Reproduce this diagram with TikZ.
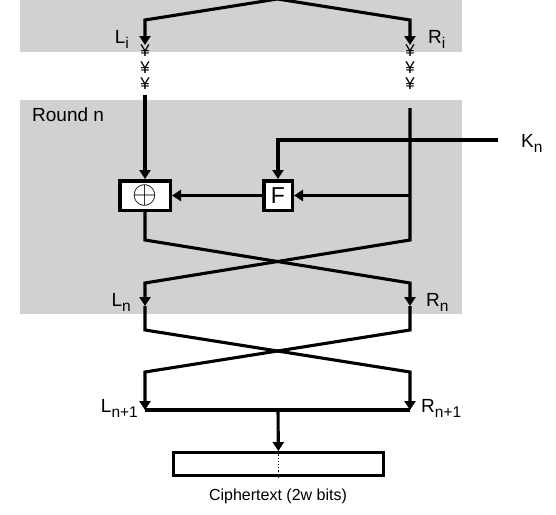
\documentclass[tikz,border=0pt]{standalone}
\usepackage{fontspec}
\setmainfont{Liberation Sans}
\usetikzlibrary{arrows.meta}
\definecolor{bandgray}{RGB}{209,209,209}
\newcommand\lblfont{\fontsize{19}{21}\selectfont}
\newcommand\yenfont{\fontsize{17}{17}\selectfont}
\newcommand\lsub[1]{\raisebox{-5.5pt}{\fontsize{15.5}{15.5}\selectfont #1}}

\begin{document}
\begin{tikzpicture}[
    x=1pt, y=-1pt,
    wire/.style={draw, line width=3.1pt, line join=miter},
    arr/.style={wire, -{Triangle[width=11pt,length=9pt]}},
    opbox/.style={draw, line width=3.5pt, fill=white, inner sep=0pt, minimum height=29.5pt},
    lbl/.style={font=\lblfont, inner sep=0pt},
    yen/.style={font=\yenfont, inner sep=0pt}
  ]
  \useasboundingbox (0,0) rectangle (556,514);

  % gray bands
  \fill[bandgray] (20,0) rectangle (462,52);
  \fill[bandgray] (20,100) rectangle (462,314);
  \node[lbl, anchor=base west] (round) at (32,121) {Round n};

  % input halves
  \coordinate (apex) at (277.5,-1);
  \coordinate (tl) at (145,20);
  \coordinate (tr) at (410,20);
  \coordinate (li) at (145,45);
  \coordinate (ri) at (410,45);
  \draw[arr] (apex) -- (tl) -- (li);
  \draw[arr] (apex) -- (tr) -- (ri);
  \node[lbl, anchor=base east] (lil) at (129,43) {L\lsub{i}};
  \node[lbl, anchor=base west] (ril) at (428,43) {R\lsub{i}};
  \foreach \y [count=\k] in {51,67.5,84} {
    \node[yen] (ly\k) at (145,\y) {¥};
    \node[yen] (ry\k) at (410,\y) {¥};
  }

  % round n
  \coordinate (lin) at (145,95);
  \coordinate (rin) at (410,108);
  \coordinate (rtap) at (410,195.5);
  \coordinate (kin) at (498,140);
  \node[opbox, minimum width=50.5pt] (xor) at (145,195.5) {\scalebox{3.2}{$\oplus$}};
  \node[opbox, minimum width=28.5pt, font=\fontsize{23}{23}\selectfont] (f) at (278,195.5) {F};
  \node[lbl, anchor=base west] (kn) at (521,147) {K\lsub{n}};
  \draw[arr] (lin) -- (xor);
  \draw[arr] (kin) -| (f);
  \draw[arr] (rtap) -- (f);
  \draw[arr] (f) -- (xor);

  \coordinate (lx1) at (145,240);
  \coordinate (rx1) at (410,240);
  \coordinate (lx2) at (145,283);
  \coordinate (rx2) at (410,283);
  \coordinate (ln) at (145,306);
  \coordinate (rn) at (410,306);
  \draw[arr] (xor) -- (lx1) -- (rx2) -- (rn);
  \draw[arr] (rin) -- (rx1) -- (lx2) -- (ln);
  \node[lbl, anchor=base east] (lnl) at (131,306) {L\lsub{n}};
  \node[lbl, anchor=base west] (rnl) at (426,306) {R\lsub{n}};

  % final swap
  \coordinate (lx3) at (145,330);
  \coordinate (rx3) at (410,330);
  \coordinate (lx4) at (145,372);
  \coordinate (rx4) at (410,372);
  \coordinate (ln1) at (145,410);
  \coordinate (rn1) at (410,410);
  \draw[arr] (ln) -- (lx3) -- (rx4) -- (rn1);
  \draw[arr] (rn) -- (rx3) -- (lx4) -- (ln1);
  \draw[wire] (ln1) -- (rn1);
  \node[lbl, anchor=base east] (ln1l) at (138,412) {L\lsub{n+1}};
  \node[lbl, anchor=base west] (rn1l) at (421,412) {R\lsub{n+1}};

  % ciphertext
  \coordinate (mid) at (278,410);
  \node[draw, line width=2.8pt, minimum width=210pt, minimum height=23pt, inner sep=0pt] (ct) at (278.5,464) {};
  \draw[arr] (mid) -- (ct);
  \draw[dotted, line width=1.2pt] (ct.north) -- (ct.south);
  \node[font=\fontsize{16}{16}\selectfont, inner sep=0pt] (ctl) at (278,496) {Ciphertext (2w bits)};
\end{tikzpicture}
\end{document}
